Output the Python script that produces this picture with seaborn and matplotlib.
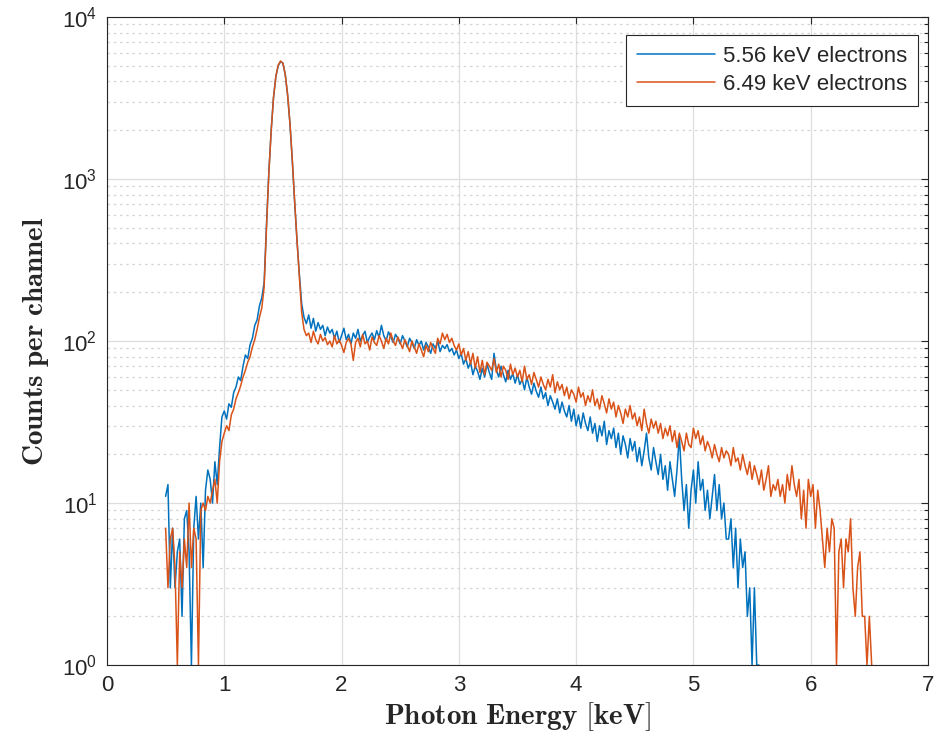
import numpy as np
import pandas as pd
import matplotlib
matplotlib.use("Agg")
import matplotlib.pyplot as plt
from matplotlib.ticker import FixedLocator, FuncFormatter, LogLocator, NullFormatter
from matplotlib.lines import Line2D
import seaborn as sns

# ---- data (channel step 0.02 keV) ----
energy_start = 0.50
energy_step = 0.02

counts_556 = [
    11, 13, 3, 7, 3, 5, 6, 2, 8, 9,
    5, 1, 7, 11, 6, 10, 4, 12, 16, 14,
    10, 18, 13, 22, 34, 37, 33, 41, 39, 48,
    52, 60, 57, 70, 82, 78, 95, 104, 125, 135,
    165, 185, 230, 520, 1100, 2000, 3200, 4300, 5000, 5300,
    5200, 4400, 3300, 2200, 1300, 720, 420, 260, 170, 140,
    128, 145, 120, 138, 115, 130, 118, 125, 108, 122,
    112, 118, 104, 115, 98, 108, 120, 102, 110, 96,
    112, 104, 118, 100, 108, 115, 98, 106, 112, 102,
    116, 105, 125, 108, 100, 114, 106, 98, 110, 104,
    96, 108, 100, 92, 104, 98, 90, 102, 94, 100,
    88, 98, 92, 84, 96, 90, 100, 86, 94, 90,
    95, 86, 90, 82, 88, 78, 84, 72, 78, 68,
    74, 62, 70, 65, 58, 68, 60, 72, 64, 58,
    84, 66, 60, 70, 62, 56, 66, 58, 63, 55,
    62, 54, 58, 50, 60, 52, 47, 55, 49, 45,
    52, 44, 48, 40, 46, 42, 38, 44, 36, 42,
    37, 34, 40, 32, 38, 30, 35, 29, 36, 31,
    28, 34, 27, 31, 24, 30, 26, 32, 23, 28,
    25, 29, 22, 27, 20, 26, 23, 19, 25, 21,
    24, 18, 22, 17, 21, 27, 19, 16, 22, 18,
    15, 20, 14, 17, 12, 18, 14, 11, 16, 26,
    14, 9, 13, 7, 12, 16, 10, 18, 12, 14,
    9, 12, 8, 11, 15, 9, 13, 8, 10, 6,
    6, 8, 4, 7, 3, 6, 4, 5, 2, 3,
    1, 3, 1, 1,
]

counts_649 = [
    7, 3, 6, 7, 4, 1, 5, 3, 6, 4,
    10, 4, 7, 6, 1, 9, 10, 9, 11, 10,
    12, 14, 10, 18, 24, 27, 30, 28, 35, 38,
    44, 48, 53, 60, 66, 74, 80, 92, 102, 118,
    140, 160, 215, 500, 1080, 1980, 3180, 4300, 5050, 5350,
    5180, 4420, 3320, 2220, 1320, 730, 420, 250, 150, 118,
    108, 112, 98, 115, 102, 96, 110, 100, 105, 95,
    100, 92, 108, 96, 102, 94, 85, 98, 104, 96,
    76, 98, 104, 92, 110, 96, 100, 88, 106, 98,
    94, 108, 100, 90, 104, 96, 112, 100, 94, 106,
    98, 90, 102, 94, 86, 100, 92, 84, 96, 88,
    80, 94, 86, 98, 90, 84, 104, 96, 112, 102,
    110, 98, 104, 94, 88, 96, 82, 90, 76, 86,
    72, 84, 68, 80, 64, 76, 62, 74, 70, 66,
    78, 64, 72, 60, 70, 66, 58, 72, 62, 68,
    60, 66, 56, 70, 58, 62, 54, 64, 58, 52,
    60, 54, 50, 58, 52, 62, 48, 56, 50, 54,
    46, 52, 44, 50, 47, 42, 52, 45, 48, 40,
    46, 42, 50, 40, 44, 38, 46, 41, 36, 44,
    38, 42, 34, 40, 36, 31, 38, 34, 40, 33,
    36, 30, 34, 28, 38, 31, 27, 33, 29, 32,
    27, 31, 25, 29, 26, 30, 24, 28, 22, 27,
    24, 21, 27, 23, 22, 29, 25, 28, 23, 26,
    21, 24, 22, 19, 23, 20, 18, 22, 19, 21,
    20, 17, 22, 18, 19, 16, 20, 17, 15, 18,
    14, 17, 15, 13, 16, 12, 14, 17, 11, 13,
    12, 14, 11, 13, 10, 15, 12, 17, 13, 11,
    14, 8, 12, 7, 14, 11, 13, 7, 12, 9,
    6, 4, 7, 5, 8, 7, 1, 5, 6, 3,
    6, 5, 8, 3, 2, 4, 5, 2, 2, 1,
    2, 1,
]

series_labels = ["5.56 keV electrons", "6.49 keV electrons"]
series_colors = ["#0072BD", "#D95319"]
x_ticks = [0, 1, 2, 3, 4, 5, 6, 7]
y_decades = [0, 1, 2, 3, 4]

energy_556 = np.round(energy_start + energy_step * np.arange(len(counts_556)), 2)
energy_649 = np.round(energy_start + energy_step * np.arange(len(counts_649)), 2)

df = pd.concat([
    pd.DataFrame({"energy": energy_556, "counts": counts_556, "series": series_labels[0]}),
    pd.DataFrame({"energy": energy_649, "counts": counts_649, "series": series_labels[1]}),
], ignore_index=True)

# ---- figure ----
sns.set_style("white")
plt.rcParams["font.family"] = ["Liberation Sans", "DejaVu Sans"]

fig = plt.figure(figsize=(9.45, 7.39), dpi=100)
ax = fig.add_axes([0.1132, 0.100, 0.8688, 0.877])
ax.set_yscale("log")

sns.lineplot(data=df, x="energy", y="counts", hue="series",
             palette=dict(zip(series_labels, series_colors)),
             estimator=None, sort=False, linewidth=1.1, ax=ax, legend=False)

ax.set_xlim(0, 7)
ax.set_ylim(1, 1e4)
ax.xaxis.set_major_locator(FixedLocator(x_ticks))
ax.yaxis.set_major_locator(FixedLocator([10.0 ** d for d in y_decades]))
ax.yaxis.set_minor_locator(LogLocator(base=10, subs=np.arange(2, 10)))
ax.yaxis.set_minor_formatter(NullFormatter())
ax.yaxis.set_major_formatter(FuncFormatter(lambda v, p: r"$\mathregular{10^{%d}}$" % int(round(np.log10(v)))))

ax.grid(which="major", color="#dedede", linewidth=0.9)
ax.grid(which="minor", axis="y", color="#d4d4d4", linewidth=0.9, linestyle=(0, (2, 3)))
ax.set_axisbelow(True)

ax.tick_params(which="both", direction="in", top=True, right=True,
               colors="#262626", labelsize=16, width=0.8)
ax.tick_params(which="major", length=5, pad=7)
ax.tick_params(which="minor", length=3)
for s in ax.spines.values():
    s.set_color("#262626")
    s.set_linewidth(0.8)

ax.set_xlabel(r"$\mathbf{Photon\ Energy\ [keV]}$", fontsize=21, math_fontfamily="cm",
              color="#262626", labelpad=3)
ax.set_ylabel(r"$\mathbf{Counts\ per\ channel}$", fontsize=21, math_fontfamily="cm",
              color="#262626", labelpad=8)

handles = [Line2D([], [], color=c, lw=1.1) for c in series_colors]
leg = ax.legend(handles, series_labels, loc="upper right", fontsize=16,
                frameon=True, fancybox=False, framealpha=1, edgecolor="#262626",
                handlelength=3.5, handletextpad=0.35, borderpad=0.5,
                labelspacing=0.3, borderaxespad=0,
                bbox_to_anchor=(0.9878, 0.972))
leg.get_frame().set_linewidth(0.8)
for t in leg.get_texts():
    t.set_color("#262626")

fig.savefig("out.png", dpi=100)
